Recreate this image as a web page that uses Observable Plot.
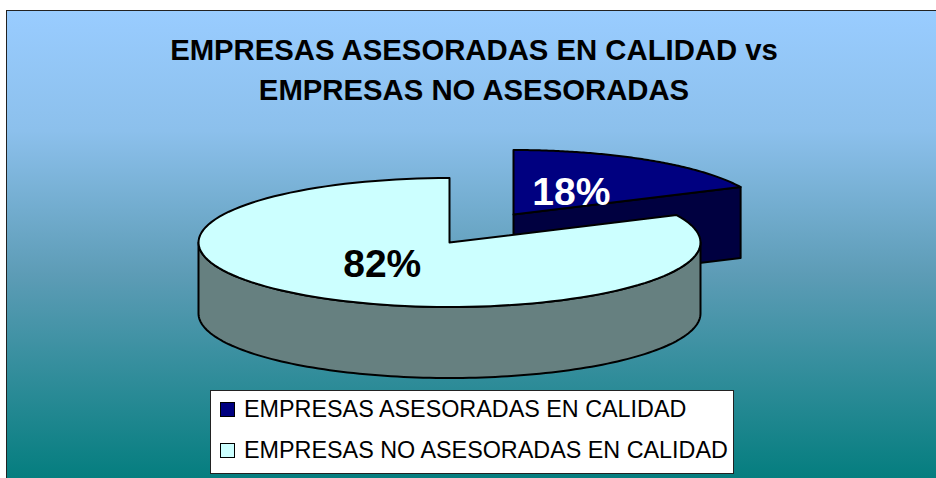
<!DOCTYPE html>
<html><head><meta charset="utf-8">
<script src="https://cdn.jsdelivr.net/npm/d3@7"></script>
<script src="https://cdn.jsdelivr.net/npm/@observablehq/plot@0.6"></script>
<style>
html,body{margin:0;padding:0;background:#fff;width:936px;height:478px;overflow:hidden;font-family:"Liberation Sans",Arial,sans-serif}
#panel{position:absolute;left:6px;top:10px;width:940px;height:480px;box-sizing:border-box;border:1.5px solid #222;background:linear-gradient(#99ccff 0%,#8cc0ec 25%,#5d9cb6 55%,#007c7c 100%)}
#chart{position:absolute;left:0;top:0}
#chart svg{background:transparent!important}
#title{position:absolute;left:122px;width:704px;top:30px;text-align:center;font-weight:bold;font-size:29.3px;line-height:39.5px;color:#000;white-space:nowrap}
#legend{position:absolute;left:210px;top:390px;width:524px;height:84px;box-sizing:border-box;background:#fff;border:1px solid #222}
.row{position:absolute;left:0;height:30px;line-height:30px;font-size:23.35px;color:#000;white-space:nowrap}
.sw{position:absolute;left:9px;top:7px;width:13px;height:13px;border:1.5px solid #000}
.lb{position:absolute;left:33px;top:-1px}
</style></head><body>
<div id="panel"></div>
<div id="chart"></div>
<div id="title">EMPRESAS ASESORADAS EN CALIDAD vs<br>EMPRESAS NO ASESORADAS</div>
<div id="legend"></div>
<script>
const categories = ["EMPRESAS ASESORADAS EN CALIDAD", "EMPRESAS NO ASESORADAS EN CALIDAD"];
const shares = [18, 82];
const topColors = ["#000080", "#ccffff"];
const sideColors = ["#000040", "#668080"];
const labelColors = ["#fff", "#000"];
const centers = [[513, 214], [449, 242]];
const labelReachX = [0.43, 0.50];
const labelReachY = 0.41;
const rx = 251, ry = 64.5, depth = 71;

const turn = v => v / d3.sum(shares) * 2 * Math.PI;
const rim = (c, a) => [c[0] + rx * Math.sin(a), c[1] - ry * Math.cos(a)];
const sliceAngles = [[0, turn(shares[0])], [turn(shares[0]), 2 * Math.PI]];
const arc = (c, a0, a1) => d3.range(0, 121).map(i => rim(c, a0 + (a1 - a0) * i / 120));

const poly = [];
const add = (id, pts, fill) => pts.forEach(p => poly.push({id, x: p[0], y: p[1], fill}));

// small slice: cut face seen from the front, then its top
{
  const c = centers[0], [a0, a1] = sliceAngles[0], e = rim(c, a1);
  add("s-cut", [c, e, [e[0], e[1] + depth], [c[0], c[1] + depth], c], sideColors[0]);
  add("s-top", [c, ...arc(c, a0, a1), c], topColors[0]);
}
// large slice: outer wall (front half of the rim), then its top
{
  const c = centers[1], [a0, a1] = sliceAngles[1];
  const front = arc(c, Math.PI / 2, 3 * Math.PI / 2);
  add("b-wall", [...front, ...front.slice().reverse().map(p => [p[0], p[1] + depth]), front[0]], sideColors[1]);
  add("b-top", [c, ...arc(c, a0, a1), c], topColors[1]);
}

const labels = shares.map((v, i) => {
  const mid = (sliceAngles[i][0] + sliceAngles[i][1]) / 2;
  return {
    text: v + "%", color: labelColors[i],
    x: centers[i][0] + labelReachX[i] * rx * Math.sin(mid),
    y: centers[i][1] - labelReachY * ry * Math.cos(mid)
  };
});

const chart = Plot.plot({
  width: 936, height: 478, margin: 0,
  x: {domain: [0, 936], range: [0, 936], axis: null},
  y: {domain: [0, 478], range: [0, 478], axis: null},
  marks: [
    Plot.line(poly, {x: "x", y: "y", z: "id", fill: "fill", stroke: "#000", strokeWidth: 2, curve: "linear", strokeLinejoin: "round"}),
    Plot.text(labels, {x: "x", y: "y", text: "text", fill: "color", fontSize: 39, fontWeight: "bold", fontFamily: "Liberation Sans"})
  ]
});
document.getElementById("chart").append(chart);

const legend = document.getElementById("legend");
categories.forEach((name, i) => {
  const row = document.createElement("div");
  row.className = "row";
  row.style.top = (i === 0 ? 4 : 45) + "px";
  row.innerHTML = `<span class="sw" style="background:${topColors[i]}"></span><span class="lb">${name}</span>`;
  legend.append(row);
});
</script>
</body></html>
